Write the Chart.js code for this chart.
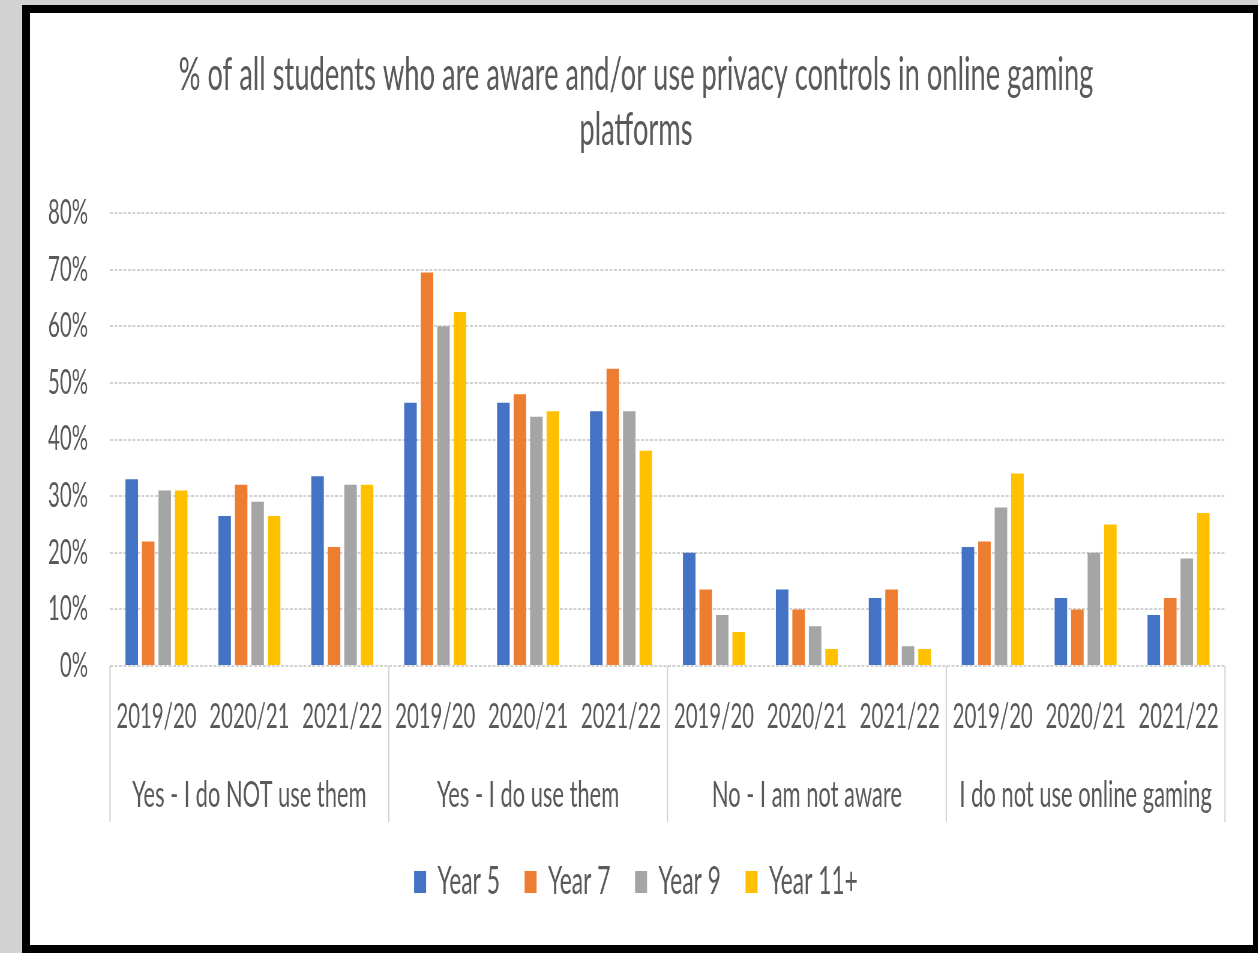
<!DOCTYPE html>
<html><head><meta charset="utf-8">
<script src="https://cdn.jsdelivr.net/npm/chart.js@4.4.1/dist/chart.umd.min.js"></script>
<style>
html,body{margin:0;padding:0;width:1258px;height:953px;overflow:hidden;background:#d3d3d3;}
#frame{position:absolute;left:22px;top:5px;width:1236px;height:948px;background:#000;}
#c{position:absolute;left:30px;top:13px;background:#fff;}
</style></head><body>
<div id="frame"></div>
<canvas id="c" width="2038" height="932" style="width:1223px;height:932px"></canvas>
<script>
// ---- data ----
const categories = ['2019/20','2020/21','2021/22','2019/20','2020/21','2021/22','2019/20','2020/21','2021/22','2019/20','2020/21','2021/22'];
const groups = ['Yes - I do NOT use them','Yes - I do use them','No - I am not aware','I do not use online gaming'];
const seriesNames = ['Year 5','Year 7','Year 9','Year 11+'];
const year5  = [33, 26.5, 33.5, 46.5, 46.5, 45, 20, 13.5, 12, 21, 12, 9];
const year7  = [22, 32, 21, 69.5, 48, 52.5, 13.5, 10, 13.5, 22, 10, 12];
const year9  = [31, 29, 32, 60, 44, 45, 9, 7, 3.5, 28, 20, 19];
const year11 = [31, 26.5, 32, 62.5, 45, 38, 6, 3, 3, 34, 25, 27];
const yTickValues = [0, 10, 20, 30, 40, 50, 60, 70, 80];
const titleLines = ['% of all students who are aware and/or use privacy controls in online gaming', 'platforms'];

// ---- style ----
const S = 0.6;                // horizontal compression of the drawing
const X = d => d / S;         // display px -> internal px (horizontal)
const colors = ['#4472C4', '#ED7D31', '#A5A5A5', '#FFC000'];
const textColor = '#595959';
Chart.defaults.font.family = 'Lato, "Open Sans", sans-serif';
Chart.defaults.color = textColor;

const dividers = {
  id: 'dividers',
  afterDraw(chart) {
    const x = chart.scales.x, x2 = chart.scales.x2, ctx = chart.ctx;
    const n = x.getLabels().length, step = (x.right - x.left) / n;
    ctx.save();
    ctx.strokeStyle = '#d0d0d0';
    ctx.lineWidth = X(1.2);
    for (let i = 0; i <= n; i += 3) {
      const px = x.left + i * step;
      ctx.beginPath();
      ctx.moveTo(px, chart.chartArea.bottom);
      ctx.lineTo(px, x2.bottom);
      ctx.stroke();
    }
    ctx.restore();
  }
};

const data = [year5, year7, year9, year11];
new Chart(document.getElementById('c'), {
  type: 'bar',
  data: {
    labels: categories,
    datasets: seriesNames.map((n, i) => ({
      label: n, data: data[i], backgroundColor: colors[i], borderWidth: 0,
      categoryPercentage: 0.71, barPercentage: 0.76
    }))
  },
  options: {
    responsive: false,
    animation: false,
    devicePixelRatio: 1,
    layout: { padding: { left: X(17), right: X(28), top: 0, bottom: 34 } },
    plugins: {
      title: {
        display: true, text: titleLines, color: textColor,
        font: { size: 45.5, weight: 'normal', lineHeight: 55 / 45.5 },
        padding: { top: 34.5, bottom: 55.5 }
      },
      legend: {
        position: 'bottom',
        labels: { boxWidth: X(12), boxHeight: 22, padding: 41, color: textColor, font: { size: 38 } }
      },
      tooltip: { enabled: false }
    },
    scales: {
      y: {
        min: 0, max: 80,
        afterBuildTicks: s => { s.ticks = yTickValues.map(v => ({ value: v })); },
        afterFit: s => { s.width = X(63); },
        ticks: { padding: X(22), color: textColor, font: { size: 34 }, callback: v => v + '%' },
        grid: { color: '#d2d2d2', lineWidth: 2, drawTicks: false },
        border: { display: false, dash: [X(3), X(1.5)] }
      },
      x: {
        grid: { display: false, drawTicks: false },
        border: { display: false },
        ticks: { padding: 30.6, color: textColor, font: { size: 34 }, maxRotation: 0, autoSkip: false }
      },
      x2: {
        type: 'category', labels: groups, position: 'bottom', offset: true,
        grid: { display: false, drawTicks: false },
        border: { display: false },
        ticks: { padding: 5.1, color: textColor, font: { size: 36.5 }, maxRotation: 0, autoSkip: false }
      }
    }
  },
  plugins: [dividers]
});
</script>
</body></html>
